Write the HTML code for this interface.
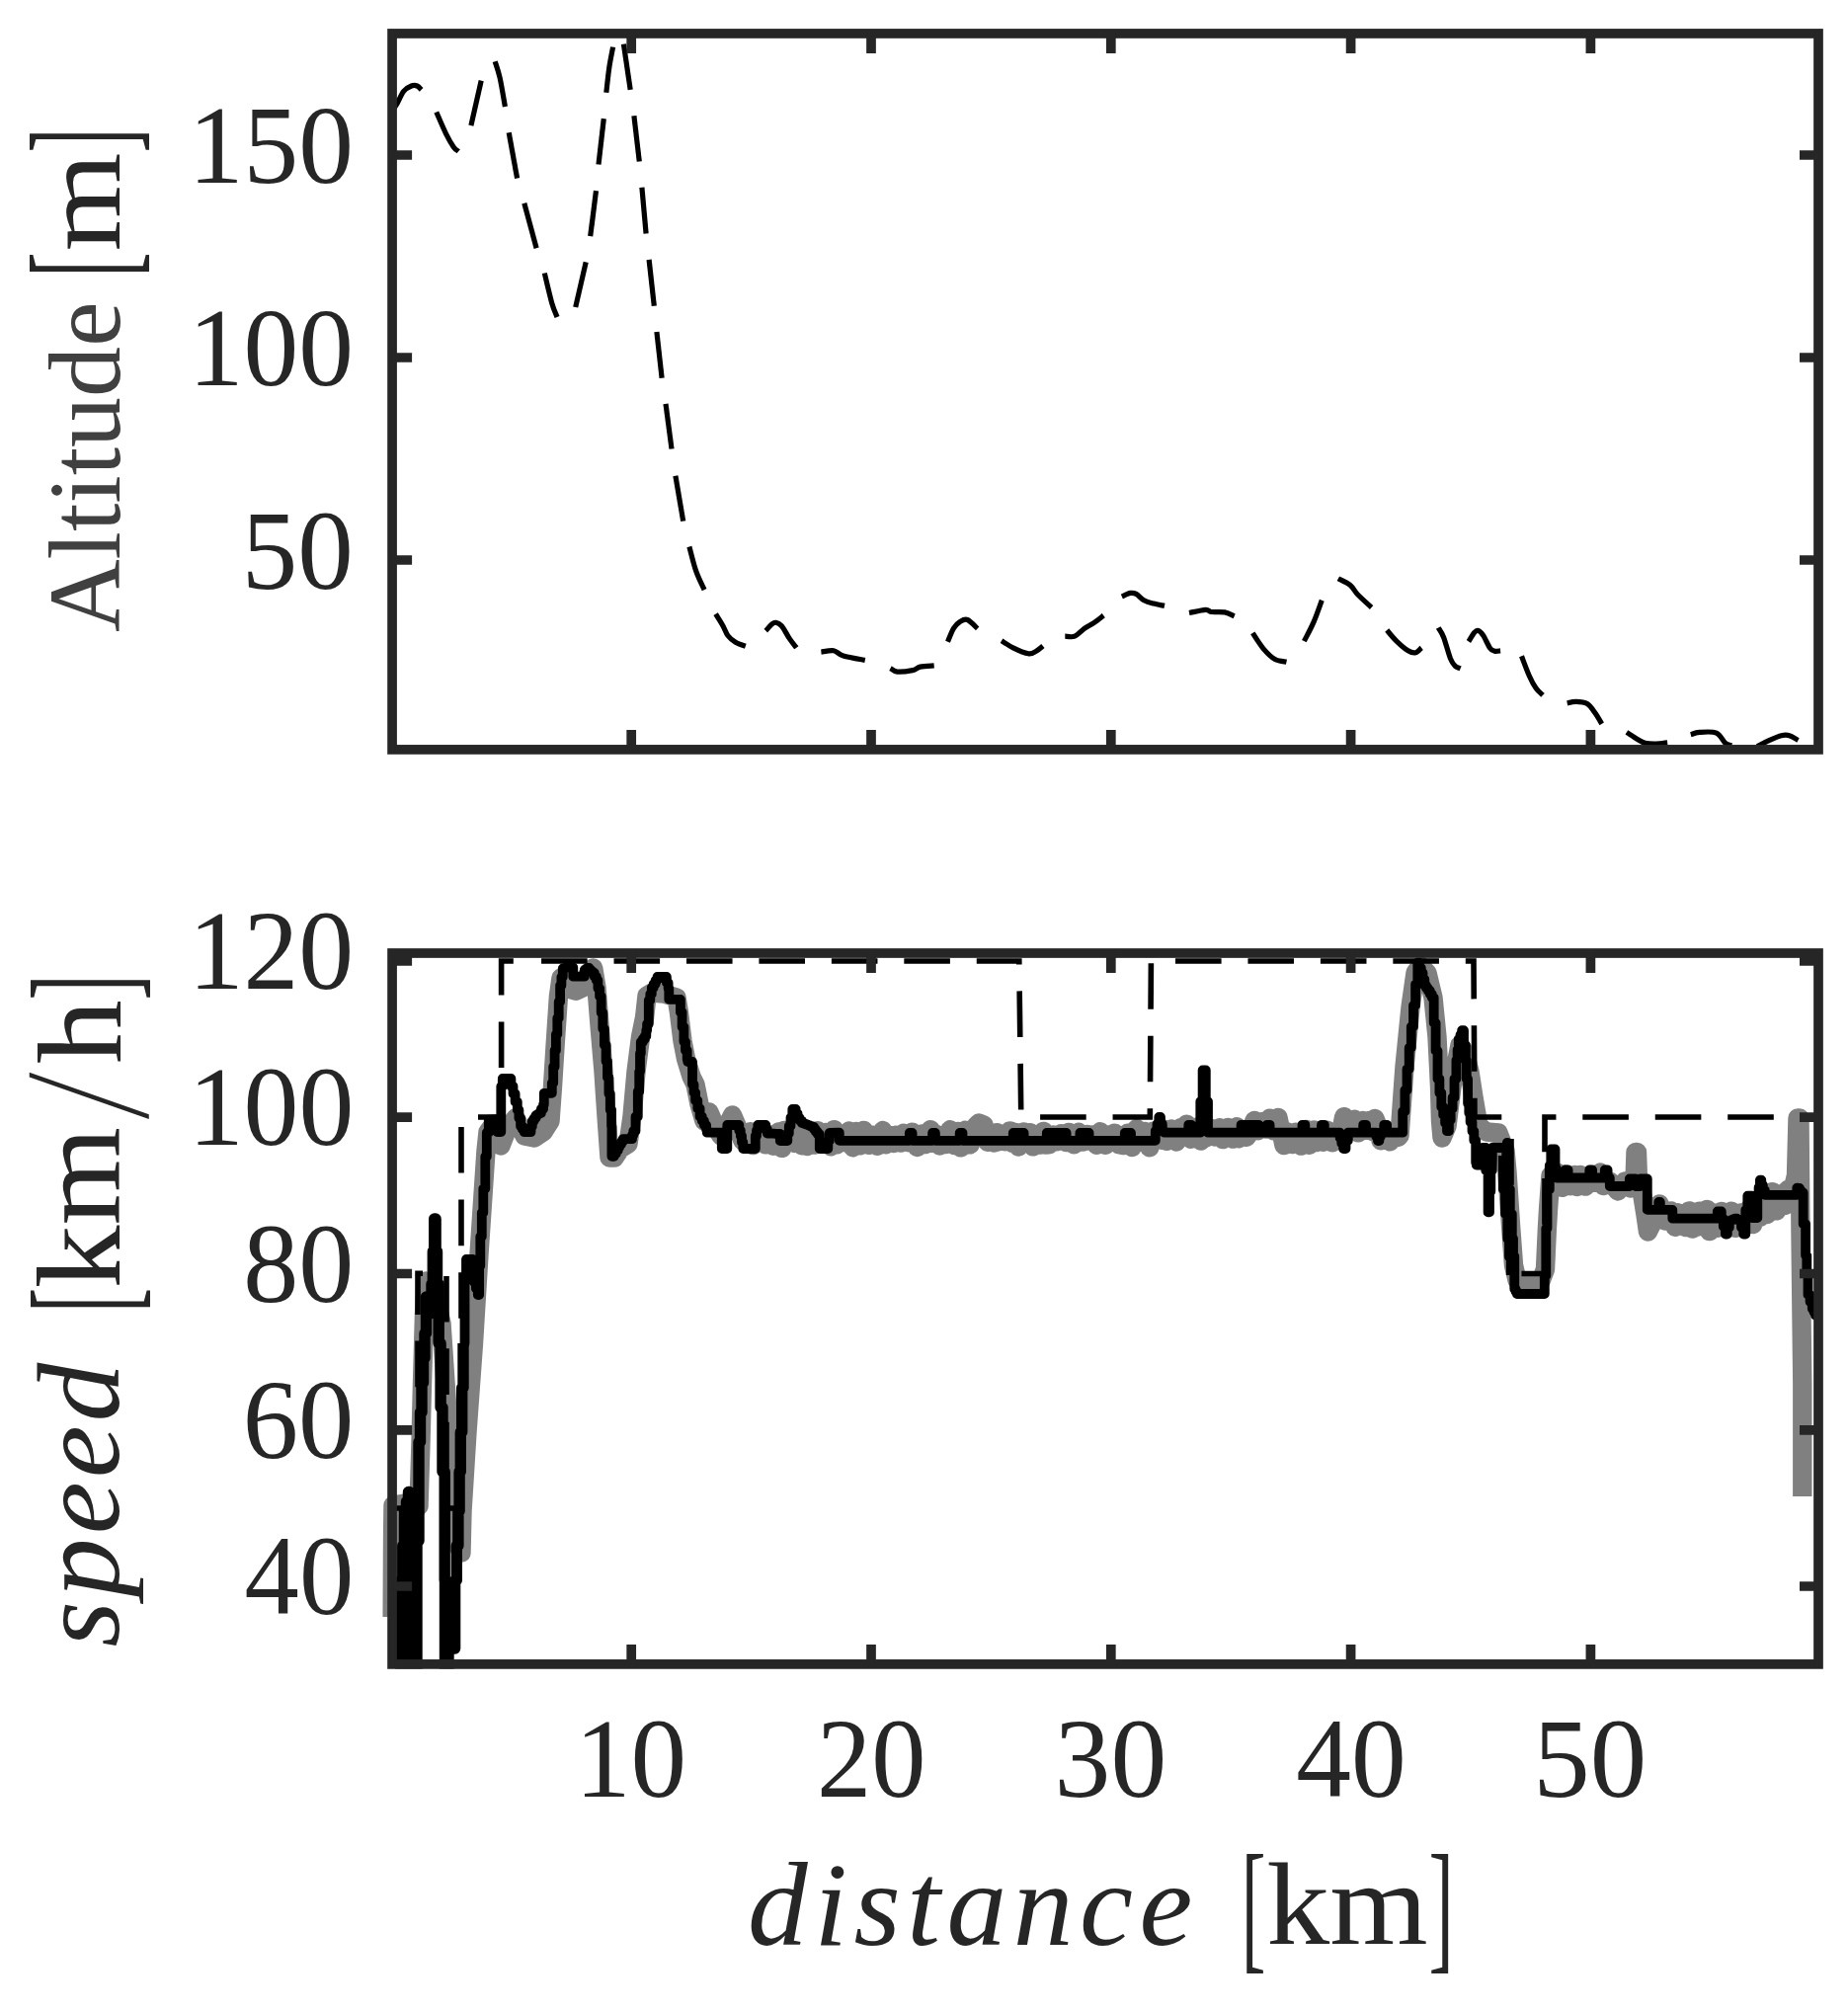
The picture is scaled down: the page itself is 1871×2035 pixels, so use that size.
<!DOCTYPE html><html><head><meta charset="utf-8"><title>Altitude and speed vs distance</title>
<style>html,body{margin:0;padding:0;background:#fff}svg{display:block}text{font-family:"Liberation Serif",serif}</style></head><body>
<svg width="1871" height="2035" viewBox="0 0 1871 2035">
<rect width="1871" height="2035" fill="#fff"/>
<defs><clipPath id="c1"><rect x="397.1" y="34.0" width="1444.0" height="724.9"/></clipPath>
<clipPath id="c2"><rect x="387.2" y="965.0" width="1459.0" height="724.4"/></clipPath></defs>
<g clip-path="url(#c1)" fill="none" stroke="#000" stroke-width="5.2" stroke-linejoin="round">
<path d="M397.0 112.0C397.8 110.8 399.9 108.4 401.9 105.1C403.8 101.8 406.3 95.4 408.7 92.4C411.1 89.4 414.2 87.9 416.5 87.0C418.8 86.1 420.6 86.3 422.3 87.0C424.0 87.7 425.9 90.2 426.6 90.9"/>
<path d="M441.8 113.5C443.4 117.1 448.6 129.4 451.5 135.3C454.4 141.2 457.2 145.9 459.3 148.9C461.4 151.9 463.4 152.5 464.2 153.2"/>
<path d="M476.9 127.1L487.2 81.7"/>
<path d="M501.2 62.2C502.0 65.0 504.4 71.2 506.1 78.8C507.8 86.4 510.5 103.1 511.4 108.0"/>
<path d="M515.2 134.3L523.6 180.5"/>
<path d="M530.8 205.8L543.1 251.2"/>
<path d="M551.3 276.5C552.5 281.5 556.6 299.3 558.7 306.7C560.8 314.1 563.2 318.6 564.1 321.0"/>
<path d="M582.7 311.0L593.2 265.4"/>
<path d="M597.7 239.1L603.5 193.2"/>
<path d="M606.0 166.5L611.3 120.1"/>
<path d="M613.8 93.8C614.3 89.7 615.6 76.8 616.7 69.1C617.8 61.4 620.0 51.2 620.6 47.6"/>
<path d="M631.4 44.7L638.2 90.9"/>
<path d="M641.9 117.2L647.3 163.5"/>
<path d="M649.9 189.8L654.1 236.6"/>
<path d="M657.1 262.9L662.3 309.7"/>
<path d="M664.9 336.0L670.1 382.7"/>
<path d="M674.0 408.8L680.0 454.5"/>
<path d="M683.9 481.8L691.7 527.6"/>
<path d="M697.9 553.5C699.0 557.6 702.2 570.9 704.7 578.2C707.2 585.5 711.7 594.0 713.1 597.1"/>
<path d="M724.6 621.7C725.8 623.7 730.0 630.2 732.0 633.8C734.0 637.4 734.8 640.8 736.9 643.5C739.0 646.2 741.7 648.5 744.7 650.3C747.7 652.1 753.1 653.6 754.8 654.2"/>
<path d="M775.3 638.6C776.4 637.5 780.0 633.2 781.7 631.8C783.4 630.4 784.0 630.0 785.6 630.3C787.2 630.6 789.1 631.1 791.4 633.8C793.7 636.5 796.7 642.7 799.2 646.4C801.7 650.1 805.2 654.2 806.4 655.8"/>
<path d="M831.4 660.1C833.5 659.9 840.3 658.1 844.0 658.7C847.7 659.4 848.5 662.4 853.8 664.0C859.1 665.6 872.1 667.7 875.8 668.4"/>
<path d="M901.5 676.6C902.6 677.2 904.6 679.8 908.3 680.1C912.0 680.4 920.0 679.4 923.9 678.6C927.8 677.8 928.1 675.9 931.7 675.1C935.3 674.3 943.4 674.1 945.7 673.9"/>
<path d="M959.5 649.8C960.5 647.5 963.4 639.5 965.5 636.1C967.6 632.7 969.6 630.9 971.9 629.5C974.2 628.1 976.5 626.4 979.5 627.5C982.5 628.6 988.0 634.9 989.7 636.4"/>
<path d="M1014.0 648.7C1016.0 649.9 1021.2 653.7 1025.7 655.9C1030.2 658.1 1037.4 661.2 1041.3 661.8C1045.2 662.3 1046.7 660.5 1049.1 659.2C1051.5 657.9 1054.8 654.9 1055.9 654.0"/>
<path d="M1078.3 644.2C1079.9 644.2 1084.8 645.5 1088.1 644.2C1091.3 642.9 1094.6 638.7 1097.8 636.4C1101.0 634.1 1104.2 632.8 1107.5 630.6C1110.8 628.4 1115.7 624.4 1117.3 623.2"/>
<path d="M1135.8 603.9C1137.2 603.3 1142.1 600.8 1144.5 600.4C1146.9 600.0 1148.1 600.2 1150.4 601.4C1152.7 602.6 1155.3 606.2 1158.2 607.8C1161.1 609.4 1164.4 610.2 1167.9 611.1C1171.4 612.0 1177.2 613.0 1179.0 613.4"/>
<path d="M1204.0 620.5C1206.8 620.0 1216.8 617.5 1220.5 617.3C1224.2 617.1 1223.2 619.1 1226.4 619.5C1229.7 619.9 1236.1 619.2 1240.0 619.9C1243.9 620.6 1248.1 623.1 1249.7 623.8"/>
<path d="M1268.3 640.9C1270.1 643.6 1275.4 652.4 1279.2 656.9C1283.0 661.4 1287.0 665.4 1290.9 667.6C1294.8 669.8 1300.6 669.7 1302.5 670.1"/>
<path d="M1320.4 649.1C1322.0 645.9 1327.1 636.5 1330.1 629.6C1333.1 622.7 1336.9 611.4 1338.3 607.8"/>
<path d="M1354.9 585.8C1356.9 586.9 1363.8 589.9 1367.1 592.6C1370.4 595.4 1371.3 598.6 1374.9 602.3C1378.5 606.0 1386.3 612.9 1388.6 615.0"/>
<path d="M1404.2 638.0C1405.8 639.9 1410.3 645.6 1413.9 649.1C1417.5 652.6 1422.3 656.8 1425.6 658.8C1428.8 660.8 1431.1 661.3 1433.4 660.8C1435.7 660.3 1438.2 656.7 1439.2 655.9"/>
<path d="M1456.2 635.5C1457.1 637.1 1459.6 640.0 1461.6 645.2C1463.6 650.4 1466.5 661.7 1468.4 666.6C1470.4 671.5 1471.6 672.7 1473.3 674.4C1475.0 676.1 1477.7 676.5 1478.6 676.9"/>
<path d="M1486.9 649.5C1487.9 648.0 1491.2 642.1 1492.8 640.3C1494.4 638.4 1495.2 637.9 1496.7 638.4C1498.2 638.9 1499.6 640.3 1501.6 643.2C1503.5 646.1 1506.5 653.2 1508.4 655.9C1510.3 658.6 1511.4 658.7 1513.2 659.2C1515.0 659.7 1518.1 658.9 1519.1 658.8"/>
<path d="M1540.5 664.3C1541.8 667.6 1545.9 678.8 1548.3 684.2C1550.7 689.6 1552.8 693.5 1555.1 696.8C1557.4 700.1 1560.8 702.6 1562.0 703.8"/>
<path d="M1586.7 712.0C1588.2 711.7 1592.0 710.2 1595.4 710.3C1598.8 710.4 1603.8 710.6 1607.0 712.5C1610.2 714.4 1612.5 718.4 1614.9 721.8C1617.4 725.2 1620.6 731.0 1621.7 732.8"/>
<path d="M1646.9 741.4C1648.7 742.5 1654.3 746.4 1657.4 748.2C1660.5 750.0 1662.2 751.5 1665.5 752.3C1668.8 753.1 1673.1 753.2 1676.9 753.1C1680.7 753.0 1686.3 752.0 1688.2 751.8"/>
<path d="M1711.8 743.7C1713.3 743.3 1716.4 741.7 1720.7 741.4C1725.0 741.1 1733.5 740.3 1737.8 742.1C1742.1 743.9 1744.1 750.2 1746.7 752.3C1749.3 754.4 1752.1 754.3 1753.2 754.7"/>
<path d="M1779.2 755.6C1781.3 754.5 1788.0 750.9 1792.1 749.1C1796.1 747.3 1800.2 745.4 1803.5 744.7C1806.8 744.0 1808.8 743.9 1811.6 744.7C1814.4 745.5 1819.0 748.7 1820.5 749.5"/>
</g>
<g clip-path="url(#c2)" fill="none" stroke-linejoin="round">
<polyline points="397.0,1637.0 397.5,1560.0 398.0,1524.0 410.0,1522.0 424.0,1525.0 426.0,1460.0 427.5,1400.0 429.5,1330.0 431.0,1297.0 436.0,1300.0 442.0,1318.0 447.0,1340.0 451.0,1400.0 458.0,1500.0 464.0,1565.0 467.0,1572.0 468.0,1530.0 473.0,1450.0 479.5,1360.0 485.0,1270.0 489.0,1210.0 492.0,1165.0 494.0,1146.0 500.0,1138.0 507.0,1160.0 514.0,1142.0 522.0,1132.0 531.0,1150.0 541.0,1152.0 550.0,1146.0 557.0,1135.0 559.5,1100.0 562.0,1060.0 565.4,1008.8 568.0,990.0 572.0,1000.0 583.0,1003.3 590.0,1000.0 596.0,985.0 600.7,980.0 604.0,1000.0 607.3,1041.6 611.0,1085.0 614.0,1130.0 617.0,1172.0 622.0,1172.0 628.0,1163.0 636.0,1158.0 640.0,1130.0 644.0,1085.0 648.5,1050.0 652.6,1030.0 655.0,1008.0 660.0,1005.0 672.0,1006.0 685.0,1010.0 687.4,1024.7 691.0,1054.0 694.5,1072.0 700.0,1090.0 704.0,1098.0 708.0,1118.0 713.0,1135.0 718.0,1126.0 724.0,1140.0 730.0,1150.0 736.0,1140.0 741.5,1129.0 747.0,1142.0 752.0,1155.0 757.0,1158.3 759.6,1145.7 762.0,1159.6 765.4,1149.3 769.2,1156.6 772.8,1149.2 775.2,1158.9 780.1,1148.9 782.9,1160.2 788.2,1146.1 791.6,1162.4 793.9,1144.4 797.0,1157.2 799.6,1147.8 804.4,1157.4 808.4,1145.7 811.8,1159.7 814.1,1149.3 817.0,1160.5 820.5,1147.7 824.6,1159.1 827.7,1144.8 832.1,1157.8 836.1,1146.4 841.1,1160.8 844.2,1143.6 846.8,1158.9 851.4,1148.7 855.1,1156.6 859.5,1145.0 863.5,1161.7 866.7,1145.4 870.7,1159.9 874.4,1144.5 879.6,1159.3 883.9,1149.3 888.3,1160.3 893.7,1144.6 896.8,1158.7 901.1,1149.5 904.8,1157.4 907.3,1149.3 912.0,1157.1 914.9,1147.3 919.9,1156.8 923.5,1146.3 928.6,1161.4 933.5,1148.0 937.0,1158.5 942.0,1143.8 944.7,1157.4 947.6,1148.2 951.3,1160.0 954.3,1149.6 957.9,1158.6 961.9,1143.8 966.3,1159.5 970.4,1145.5 972.8,1161.9 977.4,1144.3 982.2,1158.7 988.0,1140.0 991.0,1137.0 996.0,1139.0 1000.0,1156.3 1004.2,1148.4 1006.6,1157.0 1009.3,1146.7 1011.6,1155.7 1014.3,1148.2 1017.6,1155.8 1022.6,1144.9 1025.2,1157.3 1028.5,1146.5 1031.1,1161.0 1036.5,1145.9 1040.2,1156.2 1042.7,1146.7 1045.7,1160.9 1048.4,1148.7 1053.6,1159.0 1056.2,1145.4 1058.5,1159.0 1062.0,1158.9 1066.4,1148.9 1069.8,1155.7 1074.4,1147.6 1079.1,1156.4 1082.0,1146.4 1087.3,1158.8 1092.1,1146.3 1096.7,1156.0 1100.5,1148.4 1102.8,1155.1 1105.8,1148.9 1110.2,1159.3 1113.8,1145.8 1119.2,1159.3 1122.5,1149.0 1125.4,1155.8 1128.3,1147.2 1133.3,1158.8 1137.0,1159.6 1141.8,1147.2 1146.1,1161.4 1150.7,1142.7 1154.5,1156.4 1159.2,1145.6 1163.9,1161.8 1167.4,1145.1 1176.0,1154.4 1178.7,1143.1 1181.4,1155.4 1186.1,1143.0 1191.0,1155.9 1195.3,1141.8 1199.2,1150.9 1201.4,1138.2 1205.7,1153.2 1210.9,1141.3 1215.8,1155.0 1218.7,1142.4 1221.8,1151.6 1225.9,1142.3 1229.4,1150.9 1234.5,1141.8 1238.1,1153.6 1243.2,1141.4 1248.3,1153.1 1252.2,1140.8 1254.4,1152.7 1257.2,1143.8 1262.0,1151.2 1266.0,1145.6 1270.0,1134.5 1273.8,1144.7 1278.5,1135.6 1282.5,1143.1 1285.5,1132.2 1289.3,1144.7 1294.0,1131.5 1300.0,1159.6 1303.8,1146.0 1308.2,1158.6 1312.1,1146.2 1317.3,1160.1 1322.3,1143.4 1325.3,1159.3 1330.5,1144.0 1333.1,1156.6 1336.7,1148.7 1339.7,1156.3 1344.0,1144.3 1349.0,1156.8 1358.0,1145.1 1360.6,1130.6 1365.9,1142.7 1371.2,1133.3 1374.9,1146.9 1379.8,1134.6 1383.3,1144.3 1386.6,1134.4 1389.8,1145.5 1392.0,1132.5 1395.6,1141.6 1398.0,1154.8 1401.8,1144.5 1407.2,1155.8 1412.5,1144.2 1415.5,1151.4 1417.0,1150.0 1422.0,1080.0 1428.0,1020.0 1433.0,985.0 1438.0,978.0 1445.0,985.0 1451.0,1010.0 1455.0,1050.0 1457.5,1100.0 1458.5,1135.0 1460.0,1152.0 1465.0,1140.0 1470.0,1100.0 1474.7,1075.0 1478.0,1058.0 1483.0,1066.0 1488.0,1085.0 1492.0,1111.0 1497.0,1140.0 1505.0,1146.0 1517.0,1147.0 1524.0,1165.0 1526.0,1187.0 1529.5,1240.0 1532.5,1281.0 1536.0,1296.0 1545.0,1297.0 1560.0,1297.0 1564.5,1285.0 1566.4,1243.6 1567.5,1224.7 1570.0,1190.0 1574.0,1198.8 1576.6,1187.3 1581.7,1202.3 1584.7,1189.0 1589.8,1200.7 1594.3,1189.4 1596.6,1201.5 1600.1,1189.5 1605.3,1201.1 1610.1,1189.5 1615.0,1197.4 1620.0,1187.1 1623.2,1200.6 1630.0,1196.0 1638.0,1206.0 1645.0,1196.0 1651.0,1203.0 1655.0,1195.0 1656.0,1166.5 1657.5,1166.5 1658.5,1195.0 1662.0,1205.0 1666.0,1230.0 1668.5,1247.0 1674.0,1236.0 1680.0,1219.0 1686.0,1236.0 1692.0,1226.0 1696.0,1242.3 1698.6,1227.7 1701.5,1241.1 1704.2,1231.4 1707.0,1242.6 1710.2,1225.9 1713.3,1244.1 1716.0,1229.1 1718.2,1242.2 1720.4,1226.1 1724.4,1241.7 1728.1,1224.5 1730.6,1246.6 1734.1,1227.9 1739.0,1243.3 1742.8,1226.4 1748.1,1242.9 1753.0,1226.3 1757.2,1243.4 1760.0,1238.3 1762.6,1228.0 1767.1,1237.2 1769.8,1224.9 1774.7,1239.6 1779.0,1219.4 1782.0,1232.2 1785.6,1217.7 1789.2,1229.4 1794.5,1206.6 1798.5,1225.9 1803.7,1208.7 1807.1,1220.5 1810.5,1204.2 1813.0,1213.0 1818.5,1190.0 1820.0,1132.0 1822.0,1132.0 1823.0,1250.0 1824.8,1400.0 1824.8,1515.0" stroke="#808080" stroke-width="19.4"/>
<polyline points="397.0,1527.0 423.0,1527.0 423.0,1289.3 452.0,1289.3 452.0,1425.0" stroke="#000" stroke-width="5.6" stroke-dasharray="46.60 26.70" stroke-dashoffset="-2.20" stroke-linejoin="miter"/>
<polyline points="452.0,1425.0 452.0,1527.0 467.0,1527.0 467.0,1131.0 507.6,1131.0 507.6,973.0 535.0,973.0" stroke="#000" stroke-width="5.6" stroke-dasharray="46.60 27.00" stroke-dashoffset="-14.80" stroke-linejoin="miter"/>
<polyline points="535.0,973.0 1031.8,973.0 1033.8,1131.0 1164.3,1131.0 1165.4,973.0 1492.0,973.0 1493.0,1131.0 1530.0,1131.0 1530.0,1140.0" stroke="#000" stroke-width="5.6" stroke-dasharray="46.60 26.85" stroke-dashoffset="-13.06" stroke-linejoin="miter"/>
<polyline points="1530.0,1140.0 1530.0,1289.5 1564.0,1289.5 1564.0,1131.0 1841.0,1131.0" stroke="#000" stroke-width="5.6" stroke-dasharray="46.60 26.85" stroke-dashoffset="-13.05" stroke-linejoin="miter"/>
<polyline points="404.0,1695.0 406.0,1695.0 406.0,1600.0 407.8,1600.0 407.8,1565.0 409.5,1565.0 409.5,1530.0 411.5,1530.0 411.5,1520.2 413.5,1520.2 413.5,1510.5 414.4,1510.5 414.4,1560.0 415.2,1560.0 415.2,1695.0 420.5,1695.0 422.0,1695.0 422.0,1560.0 424.0,1560.0 424.0,1460.0 425.5,1460.0 425.5,1430.0 427.0,1430.0 427.0,1400.0 428.5,1400.0 428.5,1375.0 430.0,1375.0 430.0,1350.0 431.5,1350.0 431.5,1313.0 432.8,1313.0 432.8,1321.5 434.0,1321.5 434.0,1330.0 435.5,1330.0 435.5,1315.0 437.0,1315.0 437.0,1300.0 438.3,1300.0 438.3,1267.0 439.7,1267.0 439.7,1234.0 441.1,1234.0 441.1,1267.0 442.5,1267.0 442.5,1300.0 444.2,1300.0 444.2,1360.0 446.1,1360.0 446.1,1425.0 448.0,1425.0 448.0,1490.0 450.2,1490.0 450.2,1600.0 450.5,1600.0 450.5,1700.0 452.5,1700.0 454.0,1700.0 454.0,1669.0 459.5,1669.0 460.6,1669.0 460.6,1600.0 462.3,1600.0 462.3,1565.0 463.9,1565.0 463.9,1530.0 465.1,1530.0 465.1,1490.0 466.3,1490.0 466.3,1450.0 467.7,1450.0 467.7,1405.0 469.0,1405.0 469.0,1360.0" stroke="#000" stroke-width="11.4"/>
<polyline points="469.0,1360.0 470.5,1360.0 470.5,1292.0 472.0,1292.0 472.0,1275.0 477.0,1275.0 478.5,1275.0 478.5,1286.5 480.0,1286.5 480.0,1298.0 481.9,1298.0 481.9,1304.5 483.8,1304.5 483.8,1311.0 485.1,1311.0 485.1,1281.5 486.3,1281.5 486.3,1252.0 487.8,1252.0 487.8,1227.8 489.3,1227.8 489.3,1203.5 491.3,1203.5 491.3,1171.0 492.8,1171.0 492.8,1146.7 494.8,1146.7 494.8,1133.7 500.8,1133.7 502.1,1133.7 502.1,1139.8 503.3,1139.8 503.3,1146.0 506.3,1146.0 507.3,1146.0 507.3,1100.0 508.8,1100.0 508.8,1092.0 515.3,1092.0 517.4,1092.0 517.4,1099.7 519.5,1099.7 519.5,1107.3 521.6,1107.3 521.6,1115.5 523.8,1115.5 523.8,1123.8 525.4,1123.8 525.4,1132.0 527.1,1132.0 527.1,1140.2 528.9,1140.2 528.9,1143.2 530.8,1143.2 530.8,1146.2 536.3,1146.2 537.5,1146.2 537.5,1140.6 538.8,1140.6 538.8,1135.0 540.6,1135.0 540.6,1132.1 542.5,1132.1 542.5,1129.2 544.1,1129.2 544.1,1128.1 545.8,1128.1 545.8,1127.0 547.9,1127.0 547.9,1122.7 550.1,1122.7 550.1,1118.3 550.8,1118.3 550.8,1106.8 558.3,1106.8 558.8,1106.8 558.8,1096.4 560.2,1096.4 560.2,1080.0 561.6,1080.0 561.6,1063.5 562.9,1063.5 562.9,1047.1 564.3,1047.1 564.3,1030.7 565.7,1030.7 565.7,1014.2 567.1,1014.2 567.1,997.8 568.4,997.8 568.4,989.1 569.8,989.1 569.8,980.5 571.4,980.5 571.4,980.0 573.1,980.0 573.1,979.5 579.7,979.5 580.3,979.5 580.3,988.7 590.6,988.7 591.8,988.7 591.8,982.0 593.3,982.0 593.3,981.0 594.8,981.0 594.8,980.0 596.5,980.0 596.5,981.7 598.1,981.7 598.1,983.3 599.8,983.3 599.8,985.0 601.8,985.0 601.8,988.7 603.8,988.7 603.8,992.4 605.4,992.4 605.4,1000.6 607.1,1000.6 607.1,1008.8 608.7,1008.8 608.7,1025.2 610.3,1025.2 610.3,1041.6 611.9,1041.6 611.9,1058.0 613.6,1058.0 613.6,1074.5 615.0,1074.5 615.0,1090.9 616.4,1090.9 616.4,1107.3 617.8,1107.3 617.8,1123.8 619.1,1123.8 619.1,1140.2 619.4,1140.2 619.4,1170.8 621.8,1170.8 621.8,1168.0 623.8,1168.0 623.8,1164.7 625.7,1164.7 625.7,1161.3 627.3,1161.3 627.3,1158.6 629.0,1158.6 629.0,1155.9 630.6,1155.9 630.6,1153.2 638.7,1153.2 640.0,1153.2 640.0,1149.1 641.3,1149.1 641.3,1145.0 643.5,1145.0 643.5,1130.5 645.8,1130.5 645.8,1105.0 647.2,1105.0 647.2,1085.0 648.0,1085.0 648.0,1066.5 648.8,1066.5 648.8,1055.0 650.8,1055.0 650.8,1052.0 652.8,1052.0 652.8,1049.0 654.3,1049.0 654.3,1043.0 655.1,1043.0 655.1,1036.6 656.8,1036.6 656.8,1012.8 658.3,1012.8 658.3,1006.4 659.8,1006.4 659.8,1000.0 661.7,1000.0 661.7,996.3 663.6,996.3 663.6,992.7 665.5,992.7 665.5,989.0 673.3,989.0 674.9,989.0 674.9,994.9 676.6,994.9 676.6,1000.8 677.3,1000.8 677.3,1011.9 687.9,1011.9 688.9,1011.9 688.9,1024.7 690.6,1024.7 690.6,1039.7 692.4,1039.7 692.4,1054.6 694.0,1054.6 694.0,1063.5 695.7,1063.5 695.7,1072.5 696.3,1072.5 696.3,1075.0 699.8,1075.0 701.0,1075.0 701.0,1098.0 702.5,1098.0 702.5,1106.1 704.1,1106.1 704.1,1114.2 706.3,1114.2 706.3,1122.3 708.6,1122.3 708.6,1130.5 710.8,1130.5 710.8,1134.8 712.9,1134.8 712.9,1139.1 715.1,1139.1 715.1,1143.4 715.8,1143.4 715.8,1146.7 729.8,1146.7 730.8,1146.7 730.8,1163.0 735.3,1163.0 736.3,1163.0 736.3,1139.0 746.8,1139.0 748.3,1139.0 748.3,1144.5 749.8,1144.5 749.8,1150.0 751.0,1150.0 751.0,1156.5 752.3,1156.5 752.3,1163.0 762.8,1163.0 764.8,1163.0 764.8,1150.0 766.0,1150.0 766.0,1144.5 767.3,1144.5 767.3,1139.0 773.8,1139.0 775.3,1139.0 775.3,1143.2 776.8,1143.2 776.8,1147.5 779.2,1147.5 779.2,1147.6 781.6,1147.6 781.6,1147.7 784.0,1147.7 784.0,1147.8 786.4,1147.8 786.4,1147.9 788.8,1147.9 788.8,1148.0 789.8,1148.0 789.8,1155.0 795.8,1155.0 797.3,1155.0 797.3,1147.5 798.8,1147.5 798.8,1140.0 800.5,1140.0 800.5,1131.5 802.3,1131.5 802.3,1123.0 803.8,1123.0 805.7,1123.0 805.7,1127.5 807.6,1127.5 807.6,1132.0 809.7,1132.0 809.7,1134.5 811.8,1134.5 811.8,1137.0 813.9,1137.0 813.9,1137.8 816.0,1137.8 816.0,1138.6 818.0,1138.6 818.0,1139.4 820.1,1139.4 820.1,1140.2 822.2,1140.2 822.2,1141.0 824.1,1141.0 824.1,1143.4 825.9,1143.4 825.9,1145.9 827.8,1145.9 827.8,1148.3 829.8,1148.3 829.8,1163.0 836.8,1163.0 838.3,1163.0 838.3,1155.0 839.8,1155.0 839.8,1147.0 848.8,1146.7 849.8,1146.7 849.8,1154.8 920.0,1154.8 920.8,1154.8 920.8,1147.0 922.8,1147.0 923.6,1147.0 923.6,1154.8 943.3,1154.8 944.1,1154.8 944.1,1147.0 946.1,1147.0 946.9,1147.0 946.9,1154.8 970.9,1154.8 971.7,1154.8 971.7,1147.0 973.7,1147.0 974.5,1147.0 974.5,1154.8 1025.0,1154.8 1025.8,1154.8 1025.8,1147.0 1035.8,1147.0 1036.6,1147.0 1036.6,1154.8 1025.0,1154.8 1036.6,1154.8 1059.0,1154.8 1059.8,1154.8 1059.8,1147.0 1078.8,1147.0 1079.6,1147.0 1079.6,1154.8 1059.0,1154.8 1079.6,1154.8 1092.6,1154.8 1093.4,1154.8 1093.4,1147.0 1101.8,1147.0 1102.6,1147.0 1102.6,1154.8 1092.6,1154.8 1102.6,1154.8 1138.0,1154.8 1138.8,1154.8 1138.8,1147.0 1144.2,1147.0 1145.0,1147.0 1145.0,1154.8 1138.0,1154.8 1145.0,1154.8 1168.3,1154.8 1169.8,1154.8 1169.8,1145.0 1171.5,1145.0 1171.5,1138.0 1173.3,1138.0 1173.3,1131.0 1175.0,1131.0 1175.0,1138.0 1176.8,1138.0 1176.8,1145.0 1178.8,1145.0 1178.8,1146.7 1202.5,1146.7 1203.3,1146.7 1203.3,1138.8 1205.3,1138.8 1206.1,1138.8 1206.1,1146.7 1213.0,1146.7 1215.3,1146.7 1215.3,1115.1 1217.6,1115.1 1217.6,1083.4 1218.6,1083.4 1220.8,1083.4 1220.8,1115.1 1223.0,1115.1 1223.0,1146.7 1255.8,1146.7 1256.6,1146.7 1256.6,1138.8 1273.6,1138.8 1274.4,1138.8 1274.4,1146.7 1255.8,1146.7 1274.4,1146.7 1282.0,1146.7 1282.8,1146.7 1282.8,1138.8 1284.8,1138.8 1285.6,1138.8 1285.6,1146.7 1317.7,1146.7 1318.5,1146.7 1318.5,1138.8 1320.5,1138.8 1321.3,1138.8 1321.3,1146.7 1337.2,1146.7 1338.0,1146.7 1338.0,1138.8 1340.0,1138.8 1340.8,1138.8 1340.8,1146.7 1354.8,1146.7 1356.6,1146.7 1356.6,1152.1 1358.3,1152.1 1358.3,1157.6 1360.1,1157.6 1360.1,1163.0 1362.5,1163.0 1362.5,1154.8 1364.8,1154.8 1364.8,1146.7 1379.4,1146.7 1380.2,1146.7 1380.2,1138.8 1382.2,1138.8 1383.0,1138.8 1383.0,1146.7 1391.8,1146.7 1393.4,1146.7 1393.4,1150.8 1395.0,1150.8 1395.0,1155.0 1396.4,1155.0 1396.4,1150.8 1397.8,1150.8 1397.8,1146.7 1400.5,1146.7 1401.3,1146.7 1401.3,1138.8 1403.3,1138.8 1404.1,1138.8 1404.1,1146.7 1418.1,1146.7 1420.2,1146.7 1420.2,1125.2 1422.4,1125.2 1422.4,1103.8 1424.5,1103.8 1424.5,1082.3 1426.7,1082.3 1426.7,1060.8 1428.8,1060.8 1428.8,1039.4 1431.0,1039.4 1431.0,1017.9 1433.1,1017.9 1433.1,996.5 1435.3,996.5 1435.3,975.0 1437.0,975.0 1437.0,980.0 1438.8,980.0 1438.8,985.0 1440.5,985.0 1440.5,991.4 1442.3,991.4 1442.3,997.8 1444.0,997.8 1444.0,1000.4 1445.8,1000.4 1445.8,1003.0 1447.8,1003.0 1447.8,1006.5 1449.8,1006.5 1449.8,1010.0 1451.7,1010.0 1451.7,1035.6 1453.6,1035.6 1453.6,1063.9 1455.5,1063.9 1455.5,1092.3 1457.4,1092.3 1457.4,1106.5 1459.3,1106.5 1459.3,1120.7 1461.2,1120.7 1461.2,1128.9 1463.1,1128.9 1463.1,1137.0 1465.0,1137.0 1465.0,1145.2 1466.9,1145.2 1466.9,1133.9 1468.7,1133.9 1468.7,1122.5 1470.6,1122.5 1470.6,1111.2 1472.5,1111.2 1472.5,1092.3 1474.4,1092.3 1474.4,1073.4 1475.6,1073.4 1475.6,1062.7 1476.8,1062.7 1476.8,1052.0 1478.5,1052.0 1478.5,1047.6 1480.1,1047.6 1480.1,1043.2 1482.0,1043.2 1482.0,1058.3 1483.9,1058.3 1483.9,1073.4 1484.8,1073.4 1484.8,1092.4 1486.1,1092.4 1486.1,1117.3 1487.3,1117.3 1487.3,1126.7 1488.6,1126.7 1488.6,1136.0 1490.5,1136.0 1490.5,1145.3 1492.3,1145.3 1492.3,1154.6 1494.2,1154.6 1494.2,1177.0 1494.8,1177.0 1494.8,1179.5 1499.8,1179.5 1501.3,1179.5 1501.3,1162.0 1503.3,1162.0 1504.3,1162.0 1504.3,1185.0 1506.6,1185.0 1506.6,1227.4 1508.0,1227.4 1508.0,1206.2 1509.3,1206.2 1509.3,1185.0 1510.8,1185.0 1510.8,1162.0 1524.8,1162.0 1525.8,1162.0 1525.8,1157.0 1526.3,1157.0 1526.3,1160.0 1526.8,1160.0 1526.8,1204.0 1528.8,1204.0 1528.8,1229.0 1530.8,1229.0 1530.8,1254.0 1532.0,1254.0 1532.0,1272.0 1533.3,1272.0 1533.3,1290.0 1533.3,1305.0 1534.5,1305.0 1534.5,1307.5 1535.8,1307.5 1535.8,1310.0 1562.3,1310.0 1563.8,1310.0 1563.8,1291.4 1565.3,1291.4 1565.3,1243.6 1566.5,1243.6 1566.5,1204.4 1568.8,1204.4 1568.8,1180.0 1570.3,1180.0 1570.3,1163.5 1573.0,1163.5 1574.5,1163.5 1574.5,1183.0 1575.8,1183.0 1575.8,1192.5 1584.0,1192.5 1584.8,1192.5 1584.8,1184.5 1586.8,1184.5 1587.6,1184.5 1587.6,1192.5 1608.5,1192.5 1609.3,1192.5 1609.3,1184.5 1611.3,1184.5 1612.1,1184.5 1612.1,1192.5 1624.0,1192.5 1624.8,1192.5 1624.8,1184.5 1626.8,1184.5 1627.6,1184.5 1627.6,1192.5 1628.8,1192.5 1629.8,1192.5 1629.8,1201.0 1648.8,1201.0 1649.8,1201.0 1649.8,1193.5 1654.8,1193.5 1655.8,1193.5 1655.8,1201.0 1659.8,1201.0 1660.8,1201.0 1660.8,1193.5 1665.8,1193.5 1667.8,1193.5 1667.8,1224.9 1678.8,1224.9 1679.3,1224.9 1679.3,1217.0 1680.3,1217.0 1680.8,1217.0 1680.8,1224.9 1691.8,1224.9 1693.3,1224.9 1693.3,1233.7 1737.3,1233.7 1738.8,1233.7 1738.8,1226.5 1740.8,1226.5 1742.8,1226.5 1742.8,1233.7 1744.8,1233.7 1744.8,1241.7 1746.9,1241.7 1746.9,1249.6 1748.8,1249.6 1748.8,1242.8 1750.8,1242.8 1750.8,1236.0 1752.7,1236.0 1752.7,1235.2 1754.5,1235.2 1754.5,1234.5 1756.4,1234.5 1756.4,1233.7 1758.6,1233.7 1758.6,1234.8 1760.8,1234.8 1760.8,1236.0 1763.0,1236.0 1763.0,1242.8 1765.2,1242.8 1765.2,1249.6 1767.3,1249.6 1767.3,1225.0 1769.3,1225.0 1769.3,1210.6 1772.3,1210.6 1773.8,1210.6 1773.8,1233.0 1777.3,1233.0 1779.3,1233.0 1779.3,1210.0 1780.6,1210.0 1780.6,1202.3 1781.9,1202.3 1781.9,1194.6 1783.3,1194.6 1783.3,1199.8 1784.8,1199.8 1784.8,1205.0 1786.8,1205.0 1786.8,1209.8 1817.8,1209.8 1819.3,1209.8 1819.3,1202.6 1820.8,1203.0 1822.0,1203.0 1822.0,1205.2 1823.3,1205.2 1823.3,1207.4 1825.7,1207.4 1825.7,1239.2 1828.1,1239.2 1828.1,1271.1 1829.3,1271.1 1829.3,1291.0 1830.5,1291.0 1830.5,1310.9 1832.6,1310.9 1832.6,1318.0 1834.8,1318.0 1834.8,1325.0 1836.5,1325.0 1836.5,1328.3 1838.1,1328.3 1838.1,1331.7 1839.8,1331.7 1839.8,1335.0" stroke="#000" stroke-width="9.8"/>
<polyline points="1520.3,1170.0 1521.8,1170.0 1521.8,1204.0 1524.0,1204.0 1524.0,1229.0 1526.3,1229.0 1526.3,1254.0 1528.0,1254.0 1528.0,1272.5 1529.8,1272.5 1529.8,1291.0" stroke="#000" stroke-width="9.8"/>
</g>
<g fill="none" stroke="#262626" stroke-width="9.7">
<rect x="397.05" y="33.95" width="1443.95" height="724.95"/>
<rect x="397.05" y="965.00" width="1443.95" height="719.90"/>
<path d="M639.2 34.0V54.0M639.2 758.9V738.9M639.2 965.0V985.0M639.2 1684.9V1664.9M882.0 34.0V54.0M882.0 758.9V738.9M882.0 965.0V985.0M882.0 1684.9V1664.9M1124.8 34.0V54.0M1124.8 758.9V738.9M1124.8 965.0V985.0M1124.8 1684.9V1664.9M1367.6 34.0V54.0M1367.6 758.9V738.9M1367.6 965.0V985.0M1367.6 1684.9V1664.9M1610.4 34.0V54.0M1610.4 758.9V738.9M1610.4 965.0V985.0M1610.4 1684.9V1664.9M397.1 157.0H417.1M1841.0 157.0H1822.0M397.1 362.0H417.1M1841.0 362.0H1822.0M397.1 567.0H417.1M1841.0 567.0H1822.0M397.1 972.9H417.1M1841.0 972.9H1822.0M397.1 1131.2H417.1M1841.0 1131.2H1822.0M397.1 1289.5H417.1M1841.0 1289.5H1822.0M397.1 1447.8H417.1M1841.0 1447.8H1822.0M397.1 1606.0H417.1M1841.0 1606.0H1822.0"/>
</g>
<text transform="matrix(1.1139 0.0000 0.0000 1.1319 190.7752 184.6681)" font-size="100" fill="#262626">150</text>
<text transform="matrix(1.1139 0.0000 0.0000 1.1319 190.7752 390.0681)" font-size="100" fill="#262626">100</text>
<text transform="matrix(1.1311 0.0000 0.0000 1.1393 244.8133 595.5607)" font-size="100" fill="#262626">50</text>
<text transform="matrix(1.1175 0.0000 0.0000 1.1452 190.6423 1000.7548)" font-size="100" fill="#262626">120</text>
<text transform="matrix(1.1175 0.0000 0.0000 1.1333 190.6423 1159.1667)" font-size="100" fill="#262626">100</text>
<text transform="matrix(1.1196 0.0000 0.0000 1.1422 246.3217 1318.2578)" font-size="100" fill="#262626">80</text>
<text transform="matrix(1.1257 0.0000 0.0000 1.1437 245.7344 1475.9563)" font-size="100" fill="#262626">60</text>
<text transform="matrix(1.1064 0.0000 0.0000 1.1452 247.5872 1634.1548)" font-size="100" fill="#262626">40</text>
<text transform="matrix(1.1322 0.0000 0.0000 1.1393 582.0103 1819.1607)" font-size="100" fill="#262626">10</text>
<text transform="matrix(1.1049 0.0000 0.0000 1.1393 827.0279 1819.1607)" font-size="100" fill="#262626">20</text>
<text transform="matrix(1.1363 0.0000 0.0000 1.1393 1067.6187 1819.1607)" font-size="100" fill="#262626">30</text>
<text transform="matrix(1.1149 0.0000 0.0000 1.1393 1312.3702 1819.1607)" font-size="100" fill="#262626">40</text>
<text transform="matrix(1.1500 0.0000 0.0000 1.1393 1552.3000 1819.1607)" font-size="100" fill="#262626">50</text>
<text transform="matrix(0.0000 -1.0210 1.0400 0.0000 121.2600 640.1210)" font-size="100" fill="#404040">Altitude</text>
<text transform="matrix(0.0000 -0.7636 1.4521 0.0000 131.2964 280.7273)" font-size="100" fill="#262626">[</text>
<text transform="matrix(0.0000 -1.2851 1.1404 0.0000 120.9000 254.5703)" font-size="100" fill="#262626">m</text>
<text transform="matrix(0.0000 -0.7467 1.4521 0.0000 131.2964 154.4133)" font-size="100" fill="#262626">]</text>
<text transform="matrix(0.0000 -1.1900 1.1900 0.0000 119.9100 1667.3850)" font-size="100" font-style="italic" letter-spacing="3.50" fill="#262626">speed</text>
<text transform="matrix(0.0000 -0.7591 1.4582 0.0000 131.5145 1328.8932)" font-size="100" fill="#262626">[</text>
<text transform="matrix(0.0000 -1.2806 1.2014 0.0000 121.3000 1304.4613)" font-size="100" fill="#262626">km</text>
<text transform="matrix(0.0000 -1.0000 1.8090 0.2932 149.3910 1132.7068)" font-size="100" fill="#262626">/</text>
<text transform="matrix(0.0000 -1.2968 1.2014 0.0000 121.9007 1076.8968)" font-size="100" fill="#262626">h</text>
<text transform="matrix(0.0000 -0.7867 1.4582 0.0000 131.5145 1012.5533)" font-size="100" fill="#262626">]</text>
<text transform="matrix(1.2143 0.0000 0.0000 1.2143 756.9571 1969.2857)" font-size="100" font-style="italic" letter-spacing="5.39" fill="#262626">distance</text>
<text transform="matrix(0.7455 0.0000 0.0000 1.4558 1256.7091 1978.3473)" font-size="100" fill="#262626">[</text>
<text transform="matrix(1.2782 0.0000 0.0000 1.1942 1282.3435 1968.0000)" font-size="100" fill="#262626">km</text>
<text transform="matrix(0.7600 0.0000 0.0000 1.4558 1446.5400 1978.3473)" font-size="100" fill="#262626">]</text>
</svg></body></html>
